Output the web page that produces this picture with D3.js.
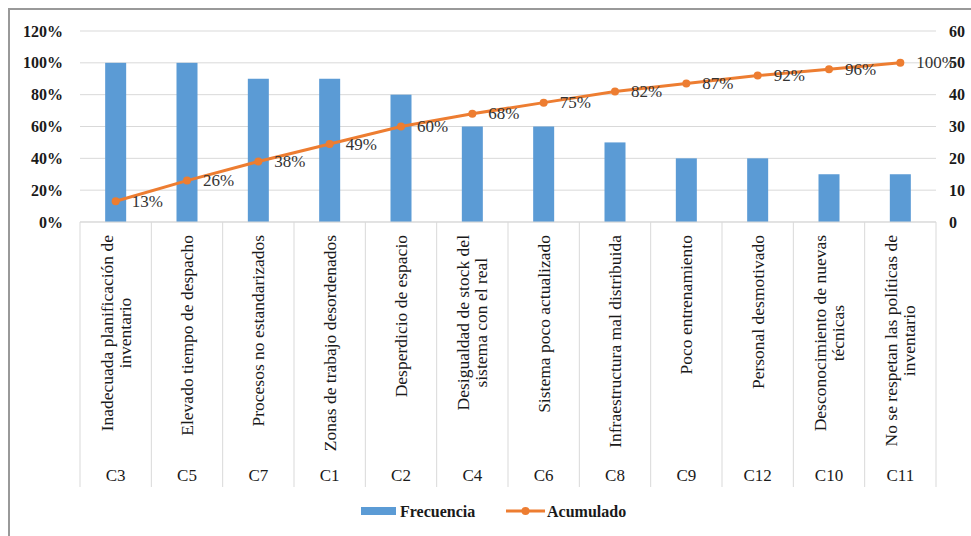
<!DOCTYPE html>
<html>
<head>
<meta charset="utf-8">
<script src="https://cdn.jsdelivr.net/npm/d3@7"></script>
<style>
  body { margin: 0; background: #fff; }
  text { font-family: "Liberation Serif", "Times New Roman", serif; }
</style>
</head>
<body>
<div id="canvas"></div>
<script>
var width = 971;
var height = 536;

// data
var categories = ["C3", "C5", "C7", "C1", "C2", "C4", "C6", "C8", "C9", "C12", "C10", "C11"];
var causes = [
  ["Inadecuada planificación de", "inventario"],
  ["Elevado tiempo de despacho"],
  ["Procesos no estandarizados"],
  ["Zonas de trabajo desordenados"],
  ["Desperdicio de espacio"],
  ["Desigualdad de stock del", "sistema con el real"],
  ["Sistema poco actualizado"],
  ["Infraestructura mal distribuida"],
  ["Poco entrenamiento"],
  ["Personal desmotivado"],
  ["Desconocimiento de nuevas", "técnicas"],
  ["No se respetan las políticas de", "inventario"]
];
var frecuencia = [50, 50, 45, 45, 40, 30, 30, 25, 20, 20, 15, 15];
var acumulado = [13, 26, 38, 49, 60, 68, 75, 82, 87, 92, 96, 100];
var leftTicks = [0, 0.2, 0.4, 0.6, 0.8, 1.0, 1.2];
var rightTicks = [0, 10, 20, 30, 40, 50, 60];

var blue = "#5b9bd5";
var orange = "#ed7d31";
var grid = "#d9d9d9";

var svg = d3.select("#canvas").append("svg")
  .attr("width", width)
  .attr("height", height);

// outer frame
svg.append("rect")
  .attr("x", 9).attr("y", 9)
  .attr("width", 990).attr("height", 560)
  .attr("fill", "none")
  .attr("stroke", "#999")
  .attr("stroke-width", 2);

var plotLeft = 80, plotRight = 936, plotTop = 31, plotBottom = 222, tableBottom = 487;

var x = d3.scaleBand().domain(categories).range([plotLeft, plotRight]).padding(0);
var yL = d3.scaleLinear().domain([0, 1.2]).range([plotBottom, plotTop]);
var yR = d3.scaleLinear().domain([0, 60]).range([plotBottom, plotTop]);

// gridlines
svg.append("g").selectAll("line")
  .data(leftTicks)
  .enter().append("line")
  .attr("x1", plotLeft).attr("x2", plotRight)
  .attr("y1", d => yL(d)).attr("y2", d => yL(d))
  .attr("stroke", grid).attr("stroke-width", 1);

// axes
var axL = svg.append("g")
  .attr("transform", "translate(" + plotLeft + ",0)")
  .call(d3.axisLeft(yL).tickValues(leftTicks).tickFormat(d3.format(".0%")).tickSize(0).tickPadding(17));
var axR = svg.append("g")
  .attr("transform", "translate(" + plotRight + ",0)")
  .call(d3.axisRight(yR).tickValues(rightTicks).tickSize(0).tickPadding(13));
[axL, axR].forEach(function(ax) {
  ax.select(".domain").remove();
  ax.selectAll("text")
    .style("font-family", "Liberation Serif")
    .attr("font-size", 16)
    .attr("font-weight", "bold")
    .attr("fill", "#1a1a1a");
});

// bars
svg.append("g").selectAll("rect")
  .data(frecuencia)
  .enter().append("rect")
  .attr("x", (d, i) => x(categories[i]) + x.bandwidth() / 2 - 10.5)
  .attr("width", 21)
  .attr("y", d => yR(d))
  .attr("height", d => plotBottom - yR(d))
  .attr("fill", blue);

// category table
var table = svg.append("g");
table.append("line")
  .attr("x1", plotLeft).attr("x2", plotRight)
  .attr("y1", plotBottom).attr("y2", plotBottom)
  .attr("stroke", grid);
table.selectAll("line.div")
  .data(categories.concat(["end"]))
  .enter().append("line")
  .attr("class", "div")
  .attr("x1", (d, i) => plotLeft + i * x.bandwidth())
  .attr("x2", (d, i) => plotLeft + i * x.bandwidth())
  .attr("y1", plotBottom).attr("y2", tableBottom)
  .attr("stroke", grid);

categories.forEach(function(c, i) {
  var cx = x(c) + x.bandwidth() / 2;
  table.append("text")
    .attr("x", cx).attr("y", 475)
    .attr("text-anchor", "middle")
    .attr("dominant-baseline", "central")
    .attr("font-size", 17)
    .attr("fill", "#1a1a1a")
    .text(c);

  var g = table.append("g").attr("transform", "translate(" + cx + ",235) rotate(-90)");
  var lines = causes[i];
  var texts = lines.map(function(t, j) {
    return g.append("text")
      .attr("y", (j - (lines.length - 1) / 2) * 18)
      .attr("dominant-baseline", "central")
      .attr("text-anchor", "middle")
      .attr("font-size", 17.5)
      .attr("fill", "#1a1a1a")
      .text(t);
  });
  var maxW = d3.max(texts, t => t.node().getComputedTextLength());
  texts.forEach(t => t.attr("x", -maxW / 2));
});

// cumulative line
var line = d3.line()
  .x((d, i) => x(categories[i]) + x.bandwidth() / 2)
  .y(d => yL(d / 100));

svg.append("path")
  .datum(acumulado)
  .attr("d", line)
  .attr("fill", "none")
  .attr("stroke", orange)
  .attr("stroke-width", 3);

svg.append("g").selectAll("circle")
  .data(acumulado)
  .enter().append("circle")
  .attr("cx", (d, i) => x(categories[i]) + x.bandwidth() / 2)
  .attr("cy", d => yL(d / 100))
  .attr("r", 4)
  .attr("fill", orange);

svg.append("g").selectAll("text")
  .data(acumulado)
  .enter().append("text")
  .attr("x", (d, i) => x(categories[i]) + x.bandwidth() / 2 + 16)
  .attr("y", d => yL(d / 100))
  .attr("dominant-baseline", "central")
  .attr("font-size", 17)
  .attr("fill", "#333")
  .text(d => d + "%");

// legend
var leg = svg.append("g");
leg.append("rect")
  .attr("x", 361).attr("y", 507)
  .attr("width", 35).attr("height", 8)
  .attr("fill", blue);
leg.append("text")
  .attr("x", 400).attr("y", 511)
  .attr("dominant-baseline", "central")
  .attr("font-size", 16).attr("font-weight", "bold")
  .attr("fill", "#1a1a1a")
  .text("Frecuencia");
leg.append("line")
  .attr("x1", 506).attr("x2", 545)
  .attr("y1", 511).attr("y2", 511)
  .attr("stroke", orange).attr("stroke-width", 3);
leg.append("circle")
  .attr("cx", 525.5).attr("cy", 511).attr("r", 4)
  .attr("fill", orange);
leg.append("text")
  .attr("x", 547).attr("y", 511)
  .attr("dominant-baseline", "central")
  .attr("font-size", 16).attr("font-weight", "bold")
  .attr("fill", "#1a1a1a")
  .text("Acumulado");
</script>
</body>
</html>
